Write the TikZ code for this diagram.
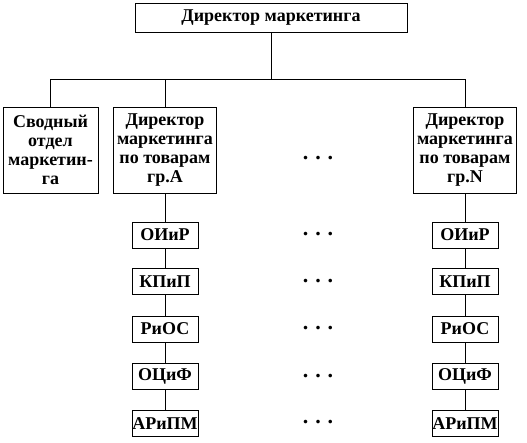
\documentclass[tikz,border=0pt]{standalone}
\usepackage{fontspec}
\setmainfont{Liberation Serif}
\begin{document}
\begin{tikzpicture}[x=1pt, y=-1pt, font=\fontsize{18}{19.2}\selectfont\bfseries]
    % Define styles
    \tikzstyle{unit} = [draw, rectangle, line width=0.8pt, inner sep=0pt, align=center]
    \tikzstyle{head} = [unit, minimum width=103pt, minimum height=86pt]
    \tikzstyle{dept} = [unit, minimum width=66pt, minimum height=26pt]
    \tikzstyle{etc} = [inner sep=0pt, font=\fontsize{22}{22}\selectfont\bfseries]
    \tikzstyle{link} = [line width=0.8pt]

    \useasboundingbox (0,0) rectangle (527,442);

    % Nodes
    \node[unit, minimum width=272pt, minimum height=29pt] (director) at (271,17.5) {Директор маркетинга};
    \coordinate (bus) at (271,79);

    \node[head, minimum width=95pt] (summary) at (50.5,150) {Сводный\\отдел\\маркетин-\\га};
    \node[head] (groupA) at (165,150) {Директор\\маркетинга\\по товарам\\гр.А};
    \node[etc] (dotsHead) at (318,158) {.\hspace{7pt}.\hspace{7pt}.};
    \node[head] (groupN) at (465,150) {Директор\\маркетинга\\по товарам\\гр.N};

    \node[dept] (oiirA) at (165,235) {ОИиР};
    \node[dept] (kpipA) at (165,281.5) {КПиП};
    \node[dept] (riosA) at (165,329) {РиОС};
    \node[dept] (ocifA) at (165,376) {ОЦиФ};
    \node[dept] (aripmA) at (165,423.5) {АРиПМ};

    \node[etc] (dotsOne) at (318,234) {.\hspace{7pt}.\hspace{7pt}.};
    \node[etc] (dotsTwo) at (318,281) {.\hspace{7pt}.\hspace{7pt}.};
    \node[etc] (dotsThree) at (318,328) {.\hspace{7pt}.\hspace{7pt}.};
    \node[etc] (dotsFour) at (318,376) {.\hspace{7pt}.\hspace{7pt}.};
    \node[etc] (dotsFive) at (318,422) {.\hspace{7pt}.\hspace{7pt}.};

    \node[dept] (oiirN) at (465,235) {ОИиР};
    \node[dept] (kpipN) at (465,281.5) {КПиП};
    \node[dept] (riosN) at (465,329) {РиОС};
    \node[dept] (ocifN) at (465,376) {ОЦиФ};
    \node[dept] (aripmN) at (465,423.5) {АРиПМ};

    % Links
    \draw[link] (director) -- (bus);
    \draw[link] (summary) |- (bus);
    \draw[link] (groupA) |- (bus);
    \draw[link] (groupN) |- (bus);

    \draw[link] (groupA) -- (oiirA);
    \draw[link] (oiirA) -- (kpipA);
    \draw[link] (kpipA) -- (riosA);
    \draw[link] (riosA) -- (ocifA);
    \draw[link] (ocifA) -- (aripmA);

    \draw[link] (groupN) -- (oiirN);
    \draw[link] (oiirN) -- (kpipN);
    \draw[link] (kpipN) -- (riosN);
    \draw[link] (riosN) -- (ocifN);
    \draw[link] (ocifN) -- (aripmN);
\end{tikzpicture}
\end{document}
